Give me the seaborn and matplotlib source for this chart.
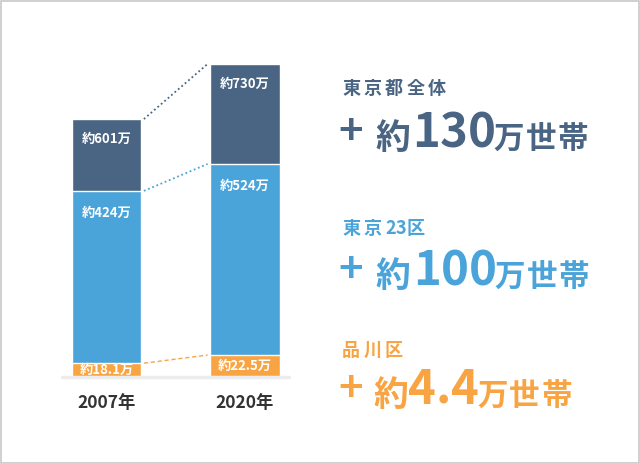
import matplotlib
matplotlib.use('Agg')
import matplotlib.pyplot as plt
import seaborn as sns
import pandas as pd
from matplotlib.patches import Rectangle

# データ (棒の高さは図から読み取り)
years = ['2007年', '2020年']
total_height = [601, 730]
ward_height = [433, 496]
shina_height = [30, 49]
total_labels = ['約601万', '約730万']
ward_labels = ['約424万', '約524万']
shina_labels = ['約18.1万', '約22.5万']
region_names = ['東京都全体', '東京23区', '品川区']
increase = ['130', '100', '4.4']

colors = ['#4a6583', '#4aa4d9', '#f9a443']

sns.set_style('white')
plt.rcParams['font.family'] = ['Noto Sans CJK JP', 'DejaVu Sans']

W, H = 640, 463
fig = plt.figure(figsize=(6.4, 4.63), dpi=100)
fig.patch.set_facecolor('white')

ax = fig.add_axes([37.25 / W, 87 / H, 277 / W, 342 / H])
df = pd.DataFrame({'year': years, 'total': total_height,
                   'ward': ward_height, 'shina': shina_height})
for col, c in zip(['total', 'ward', 'shina'], colors):
    sns.barplot(data=df, x='year', y=col, color=c, saturation=1, width=0.5,
                errorbar=None, ax=ax, zorder=2)

ax.set_xlim(-0.5, 1.5)
ax.set_ylim(0, 800)
ax.set_xlabel('')
ax.set_ylabel('')
ax.set_yticks([])
sns.despine(ax=ax, left=True, bottom=True)
ax.tick_params(axis='x', length=0, pad=13, labelsize=12.5, labelcolor='#333333')
for lab in ax.get_xticklabels():
    lab.set_fontweight('bold')

# 下の薄い線
ax.plot([-0.32, 1.32], [-2, -2], color='#ececec', lw=2.5, zorder=1, clip_on=False)

# 点線の接続
ax.plot([0.27, 0.73], total_height, color=colors[0], ls=(0, (1, 1.5)), lw=1.3, zorder=1)
ax.plot([0.27, 0.73], ward_height, color=colors[1], ls=(0, (1, 1.5)), lw=1.3, zorder=1)
ax.plot([0.27, 0.73], shina_height, color=colors[2], ls=(0, (3, 2)), lw=1.0, zorder=1)

# 棒の中のラベル
for i in range(2):
    ax.text(i, total_height[i] - 47, total_labels[i], ha='center', va='center',
            color='white', fontsize=9.5, weight='bold', zorder=3)
    ax.text(i, ward_height[i] - 52, ward_labels[i], ha='center', va='center',
            color='white', fontsize=9.5, weight='bold', zorder=3)
    ax.text(i, shina_height[i] / 2, shina_labels[i], ha='center', va='center',
            color='white', fontsize=9.5, weight='bold', zorder=3)

renderer = fig.canvas.get_renderer()


def put(x, y, s, size, color):
    t = fig.text(x / W, 1 - y / H, s, fontsize=size, color=color, weight='bold',
                 ha='left', va='baseline')
    return t.get_window_extent(renderer).x1


def spaced(x, y, s, size, color, track):
    for ch in s:
        x = put(x, y, ch, size, color)
        x += track if ord(ch) > 255 else 0
    return x


# 右側のテキスト
title_base = [94, 233.5, 355.5]
big_base = [147, 285, 404]
yaku_x = [375, 375, 373]
num_x = [412, 413, 408]
for k in range(3):
    c = colors[k]
    spaced(342, title_base[k], region_names[k], 13, c, 3.5)
    put(338, big_base[k] - 2, '+', 30, c)
    put(yaku_x[k], big_base[k] + 2, '約', 25, c)
    x = num_x[k]
    for ch in increase[k]:
        x = put(x, big_base[k], ch, 34, c)
    spaced(x - 2, big_base[k] + 1, '万世帯', 22, c, 1.5)

fig.patches.append(Rectangle((0.001, 0.001), 0.997, 0.997, transform=fig.transFigure,
                             fill=False, edgecolor='#c8c8c8', lw=1.2))

fig.savefig('out.png', dpi=100, facecolor='white')
